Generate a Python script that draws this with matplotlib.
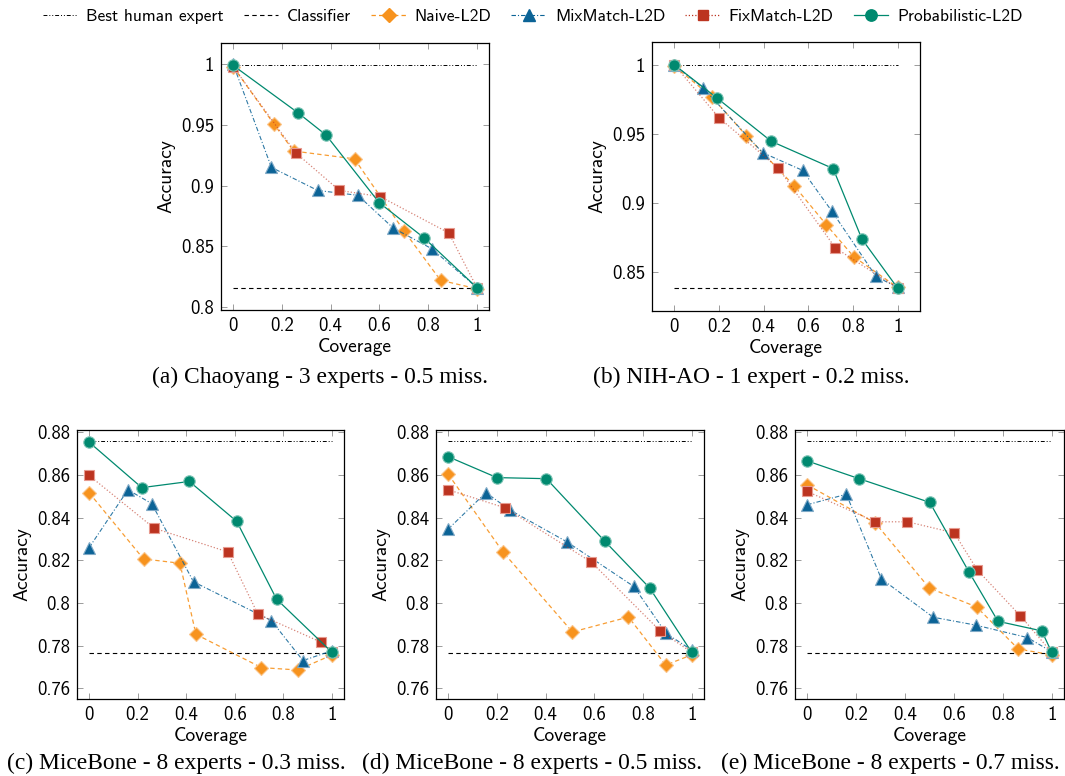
import matplotlib
matplotlib.use("Agg")
import matplotlib.pyplot as plt
from matplotlib.lines import Line2D

# ---------------- data ----------------
captions = [
    "(a) Chaoyang - 3 experts - 0.5 miss.",
    "(b) NIH-AO - 1 expert - 0.2 miss.",
    "(c) MiceBone - 8 experts - 0.3 miss.",
    "(d) MiceBone - 8 experts - 0.5 miss.",
    "(e) MiceBone - 8 experts - 0.7 miss.",
]
best_human = [0.999, 1.0, 0.876, 0.876, 0.8757]
classifier = [0.816, 0.8385, 0.7764, 0.7764, 0.7764]

# panel (a)
naive_a_x = [0, 0.166, 0.248, 0.498, 0.700, 0.851, 1]
naive_a_y = [0.998, 0.951, 0.9285, 0.922, 0.863, 0.822, 0.815]
mix_a_x = [0, 0.157, 0.347, 0.512, 0.657, 0.815, 1]
mix_a_y = [1.0, 0.915, 0.896, 0.892, 0.865, 0.848, 0.816]
fix_a_x = [0, 0.257, 0.436, 0.603, 0.885, 1]
fix_a_y = [0.998, 0.927, 0.896, 0.891, 0.861, 0.816]
prob_a_x = [0, 0.266, 0.381, 0.599, 0.783, 1]
prob_a_y = [0.999, 0.960, 0.9417, 0.886, 0.857, 0.816]

# panel (b)
naive_b_x = [0, 0.168, 0.323, 0.538, 0.681, 0.803, 1]
naive_b_y = [0.999, 0.9768, 0.9486, 0.9123, 0.8843, 0.8613, 0.839]
mix_b_x = [0, 0.127, 0.395, 0.574, 0.706, 0.903, 1]
mix_b_y = [1.0, 0.9836, 0.9365, 0.9237, 0.894, 0.847, 0.839]
fix_b_x = [0, 0.201, 0.465, 0.721, 1]
fix_b_y = [1.0, 0.9616, 0.9254, 0.8676, 0.8385]
prob_b_x = [0, 0.191, 0.434, 0.711, 0.840, 1]
prob_b_y = [1.0, 0.976, 0.9447, 0.925, 0.874, 0.8385]

# panel (c)
naive_c_x = [0, 0.224, 0.374, 0.440, 0.710, 0.859, 1]
naive_c_y = [0.8516, 0.8206, 0.8186, 0.7853, 0.7697, 0.7686, 0.7756]
mix_c_x = [0, 0.160, 0.258, 0.430, 0.751, 0.881, 1]
mix_c_y = [0.8259, 0.853, 0.8465, 0.8099, 0.7917, 0.7730, 0.7776]
fix_c_x = [0, 0.268, 0.571, 0.695, 0.954, 1]
fix_c_y = [0.8597, 0.835, 0.8239, 0.7948, 0.7817, 0.7769]
prob_c_x = [0, 0.217, 0.413, 0.608, 0.772, 1]
prob_c_y = [0.8753, 0.854, 0.8569, 0.8382, 0.8018, 0.7769]

# panel (d)
naive_d_x = [0, 0.226, 0.510, 0.740, 0.893, 1]
naive_d_y = [0.8603, 0.8237, 0.7864, 0.7934, 0.7709, 0.7757]
mix_d_x = [0, 0.155, 0.252, 0.486, 0.762, 0.895, 1]
mix_d_y = [0.8346, 0.8517, 0.8436, 0.8287, 0.8077, 0.7857, 0.7779]
fix_d_x = [0, 0.232, 0.588, 0.870, 1]
fix_d_y = [0.853, 0.8446, 0.8191, 0.7869, 0.7768]
prob_d_x = [0, 0.200, 0.403, 0.642, 0.827, 1]
prob_d_y = [0.8685, 0.8587, 0.8582, 0.829, 0.807, 0.7768]

# panel (e)
naive_e_x = [0, 0.279, 0.499, 0.693, 0.863, 1]
naive_e_y = [0.8553, 0.8374, 0.807, 0.7981, 0.7784, 0.7757]
mix_e_x = [0, 0.160, 0.303, 0.515, 0.689, 0.900, 1]
mix_e_y = [0.846, 0.8509, 0.8113, 0.7933, 0.7896, 0.7838, 0.7771]
fix_e_x = [0, 0.279, 0.410, 0.601, 0.695, 0.872, 1]
fix_e_y = [0.8522, 0.838, 0.838, 0.8328, 0.8155, 0.7939, 0.7768]
prob_e_x = [0, 0.212, 0.501, 0.661, 0.780, 0.959, 1]
prob_e_y = [0.8665, 0.8582, 0.8471, 0.8146, 0.7914, 0.7869, 0.7768]

x_ticks = [0, 0.2, 0.4, 0.6, 0.8, 1]
x_ticklabels = ["0", "0.2", "0.4", "0.6", "0.8", "1"]
y_ticks_a = [0.8, 0.85, 0.9, 0.95, 1]
y_ticklabels_a = ["0.8", "0.85", "0.9", "0.95", "1"]
y_ticks_b = [0.85, 0.9, 0.95, 1]
y_ticklabels_b = ["0.85", "0.9", "0.95", "1"]
y_ticks_m = [0.76, 0.78, 0.8, 0.82, 0.84, 0.86, 0.88]
y_ticklabels_m = ["0.76", "0.78", "0.8", "0.82", "0.84", "0.86", "0.88"]

series_names = ["Naive-L2D", "MixMatch-L2D", "FixMatch-L2D", "Probabilistic-L2D"]

panels = [
    dict(naive=(naive_a_x, naive_a_y), mix=(mix_a_x, mix_a_y), fix=(fix_a_x, fix_a_y), prob=(prob_a_x, prob_a_y),
         yt=(y_ticks_a, y_ticklabels_a), ylim=(0.7975, 1.0175), xlim=(-0.05, 1.05)),
    dict(naive=(naive_b_x, naive_b_y), mix=(mix_b_x, mix_b_y), fix=(fix_b_x, fix_b_y), prob=(prob_b_x, prob_b_y),
         yt=(y_ticks_b, y_ticklabels_b), ylim=(0.822, 1.0165), xlim=(-0.1, 1.1)),
    dict(naive=(naive_c_x, naive_c_y), mix=(mix_c_x, mix_c_y), fix=(fix_c_x, fix_c_y), prob=(prob_c_x, prob_c_y),
         yt=(y_ticks_m, y_ticklabels_m), ylim=(0.755, 0.881), xlim=(-0.05, 1.05)),
    dict(naive=(naive_d_x, naive_d_y), mix=(mix_d_x, mix_d_y), fix=(fix_d_x, fix_d_y), prob=(prob_d_x, prob_d_y),
         yt=(y_ticks_m, y_ticklabels_m), ylim=(0.755, 0.881), xlim=(-0.05, 1.05)),
    dict(naive=(naive_e_x, naive_e_y), mix=(mix_e_x, mix_e_y), fix=(fix_e_x, fix_e_y), prob=(prob_e_x, prob_e_y),
         yt=(y_ticks_m, y_ticklabels_m), ylim=(0.755, 0.881), xlim=(-0.05, 1.05)),
]

# ---------------- style ----------------
W, H = 1065, 776
SANS = ["cmss10", "DejaVu Sans"]
SERIF = ["Liberation Serif", "DejaVu Serif"]
plt.rcParams["font.family"] = SANS
plt.rcParams["axes.formatter.use_mathtext"] = True

C_ORANGE = "#F7931E"
C_BLUE = "#0B6396"
C_RED = "#BC3420"
C_GREEN = "#00896F"

styles = {
    "naive": dict(color=C_ORANGE, ls=(0, (3.5, 2.5)), marker="D", ms=7, mec="#FBC58A", lw=0.9, z=3),
    "mix": dict(color=C_BLUE, ls=(0, (4, 1.8, 1, 1.8)), marker="^", ms=8.5, mec="#7FA9C6", lw=0.8, z=4),
    "fix": dict(color=C_RED, ls=(0, (1, 1.6)), marker="s", ms=7.5, mec="#E79A8F", lw=0.9, z=5),
    "prob": dict(color=C_GREEN, ls="-", marker="o", ms=8.2, mec="#7CC4B5", lw=0.9, z=6),
}
line_alpha = {"naive": 0.9, "mix": 0.85, "fix": 0.6, "prob": 1.0}

# axes boxes in pixels: left, top, right, bottom
boxes = [
    (221, 43, 489, 310),
    (652, 42, 920, 311),
    (77, 430, 344, 699),
    (436, 430, 704, 699),
    (795, 430, 1064, 699),
]
cap_pos = [(320, 377), (751, 377), (176, 763), (532, 763), (890, 763)]

fig = plt.figure(figsize=(W / 100, H / 100), dpi=100)

for i, (p, box) in enumerate(zip(panels, boxes)):
    l, t, r, b = box
    ax = fig.add_axes([l / W, 1 - b / H, (r - l) / W, (b - t) / H])
    # reference lines
    ax.plot([0, 1], [best_human[i]] * 2, color="black", lw=0.7,
            ls=(0, (4, 2, 1, 2, 1, 2)), zorder=2)
    ax.plot([0, 1], [classifier[i]] * 2, color="black", lw=0.8,
            ls=(0, (4, 3)), zorder=2)
    for key in ["naive", "mix", "fix", "prob"]:
        st = styles[key]
        xs, ys = p[key]
        ax.plot(xs, ys, color=st["color"], ls=st["ls"], lw=st["lw"],
                alpha=line_alpha[key], zorder=st["z"])
        ax.plot(xs, ys, ls="none", marker=st["marker"], ms=st["ms"],
                mfc=st["color"], mec=st["mec"], mew=0.8, zorder=st["z"] + 0.5)
    ax.set_xlim(*p["xlim"])
    ax.set_ylim(*p["ylim"])
    ax.set_xticks(x_ticks)
    ax.set_xticklabels(x_ticklabels)
    ax.set_yticks(p["yt"][0])
    ax.set_yticklabels(p["yt"][1])
    ax.tick_params(direction="in", length=4, width=0.6, color="#8c8c8c",
                   top=True, right=True, labelsize=13.5, pad=5)
    for s in ax.spines.values():
        s.set_linewidth(0.9)
    ax.set_xlabel("Coverage", fontsize=14, labelpad=2)
    ax.set_ylabel("Accuracy", fontsize=14, labelpad=4)
    cx, cy = cap_pos[i]
    fig.text(cx / W, 1 - cy / H, captions[i], ha="center", va="center",
             fontsize=16.9, family=SERIF)

# legend
handles = [
    Line2D([], [], color="black", lw=0.7, ls=(0, (4, 2, 1, 2, 1, 2))),
    Line2D([], [], color="black", lw=0.8, ls=(0, (4, 3))),
]
for key in ["naive", "mix", "fix", "prob"]:
    st = styles[key]
    handles.append(Line2D([], [], color=st["color"], ls=st["ls"], lw=st["lw"],
                          marker=st["marker"], ms=st["ms"], mfc=st["color"],
                          mec=st["color"]))
labels = ["Best human expert", "Classifier"] + series_names
fig.legend(handles, labels, loc="center", bbox_to_anchor=(0.5, 1 - 16 / H),
           ncol=6, frameon=False, fontsize=12.5, handlelength=2.0,
           columnspacing=1.15, handletextpad=0.5)

fig.savefig("out.png", dpi=100)
